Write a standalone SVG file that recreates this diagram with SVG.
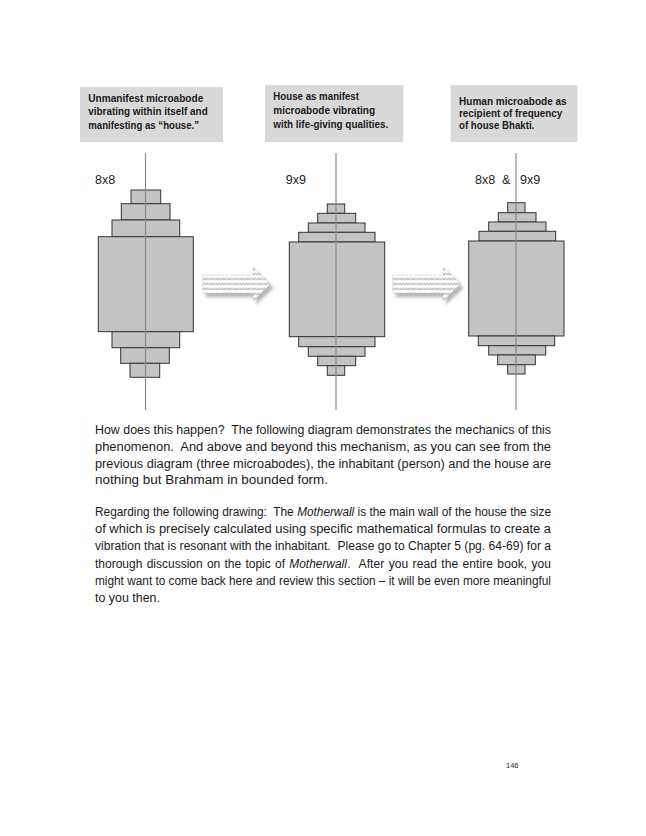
<svg xmlns="http://www.w3.org/2000/svg" width="646" height="836" viewBox="0 0 646 836">
<style>
.box{fill:#d9d9d9;}
.bt{font-family:"Liberation Sans",Arial,sans-serif;font-size:11px;font-weight:bold;fill:#1a1a1a;}
.lbl{font-family:"Liberation Sans",Arial,sans-serif;font-size:12.5px;fill:#222;}
.st{fill:#c4c4c4;stroke:#333;stroke-width:1;}
.axis{stroke:#8a8a8a;stroke-width:1.2;fill:none;}
.body{font-family:"Liberation Sans",Arial,sans-serif;font-size:12px;fill:#1a1a1a;}
.it{font-style:italic;}
.pn{font-family:"Liberation Sans",Arial,sans-serif;font-size:7.5px;fill:#222;}
</style>
<defs>
<pattern id="wave" width="6" height="5" patternUnits="userSpaceOnUse">
<rect width="6" height="5" fill="#ffffff"/>
<path d="M0,3.4 L1.5,1.2 L3,3.4 L4.5,1.2 L6,3.4" fill="none" stroke="#7a7a7a" stroke-width="0.9" stroke-dasharray="1.4,0.5"/>
</pattern>
<filter id="blur" x="-20%" y="-20%" width="140%" height="160%">
<feGaussianBlur stdDeviation="1.8"/>
</filter>
<path id="arrowShape" d="M0,8.3 L50.3,8.3 L50.3,0 L68,17.3 L50.3,34 L50.3,26.6 L0,26.6 Z"/>
</defs>
<rect width="646" height="836" fill="#ffffff"/>

<g id="box1">
<rect class="box" x="80" y="87" width="143" height="55"/>
<text class="bt" x="88.3" y="101.5" textLength="115" lengthAdjust="spacingAndGlyphs">Unmanifest microabode</text>
<text class="bt" x="88.3" y="115" textLength="119.4" lengthAdjust="spacingAndGlyphs">vibrating within itself and</text>
<text class="bt" x="88.3" y="128.5" textLength="110.7" lengthAdjust="spacingAndGlyphs">manifesting as “house.”</text>
</g>
<g id="box2">
<rect class="box" x="265" y="85" width="138.3" height="57"/>
<text class="bt" x="273.3" y="100" textLength="85.7" lengthAdjust="spacingAndGlyphs">House as manifest</text>
<text class="bt" x="273.3" y="114" textLength="101.7" lengthAdjust="spacingAndGlyphs">microabode vibrating</text>
<text class="bt" x="273.3" y="128" textLength="115" lengthAdjust="spacingAndGlyphs">with life-giving qualities.</text>
</g>
<g id="box3">
<rect class="box" x="450.7" y="85" width="126.6" height="57"/>
<text class="bt" x="459" y="104.5" textLength="107.7" lengthAdjust="spacingAndGlyphs">Human microabode as</text>
<text class="bt" x="459" y="116.5" textLength="103.3" lengthAdjust="spacingAndGlyphs">recipient of frequency</text>
<text class="bt" x="459" y="128.5" textLength="75.3" lengthAdjust="spacingAndGlyphs">of house Bhakti.</text>
</g>

<g id="stack1">
<text class="lbl" x="95" y="184">8x8</text>
<rect class="st" x="131" y="190" width="29.7" height="13.7"/>
<rect class="st" x="121.3" y="203.7" width="48.7" height="16.3"/>
<rect class="st" x="112" y="220" width="67.7" height="16.7"/>
<rect class="st" x="98.3" y="236.7" width="95" height="95"/>
<rect class="st" x="112" y="331.7" width="67.7" height="16"/>
<rect class="st" x="120.7" y="347.7" width="48.6" height="15.6"/>
<rect class="st" x="130" y="363.3" width="29.7" height="14"/>
<line class="axis" x1="145.5" y1="153" x2="145.5" y2="410"/>
</g>

<g id="stack2">
<text class="lbl" x="285.7" y="184">9x9</text>
<rect class="st" x="327.3" y="204" width="17.4" height="9.3"/>
<rect class="st" x="317.7" y="213.3" width="38" height="9.7"/>
<rect class="st" x="308.3" y="223" width="56.7" height="9.3"/>
<rect class="st" x="298.7" y="232.3" width="76.3" height="9.7"/>
<rect class="st" x="289.3" y="242" width="95.4" height="94.7"/>
<rect class="st" x="298.7" y="336.7" width="76.3" height="10"/>
<rect class="st" x="308.3" y="346.7" width="56.7" height="9.6"/>
<rect class="st" x="317.7" y="356.3" width="38" height="9.4"/>
<rect class="st" x="327.3" y="365.7" width="17.4" height="9.6"/>
<line class="axis" x1="336" y1="153" x2="336" y2="410"/>
</g>

<g id="stack3">
<text class="lbl" x="475" y="184" xml:space="preserve">8x8  &amp;</text>
<text class="lbl" x="520" y="184">9x9</text>
<rect class="st" x="507.7" y="202.7" width="17.3" height="10"/>
<rect class="st" x="498.3" y="212.7" width="37.7" height="9.3"/>
<rect class="st" x="488.7" y="222" width="57.3" height="9.3"/>
<rect class="st" x="479" y="231.3" width="76.7" height="9.7"/>
<rect class="st" x="468.7" y="241" width="95.3" height="95"/>
<rect class="st" x="478.3" y="336" width="76.4" height="9.7"/>
<rect class="st" x="488.7" y="345.7" width="57" height="9.3"/>
<rect class="st" x="497.7" y="355" width="37.6" height="9.7"/>
<rect class="st" x="507.7" y="364.7" width="17.3" height="9.3"/>
<line class="axis" x1="516" y1="153" x2="516" y2="410"/>
</g>

<g id="connectors">
<g transform="translate(202.7,266.7)">
<use href="#arrowShape" transform="translate(3,4)" fill="#8a8a8a" opacity="0.6" filter="url(#blur)"/>
<use href="#arrowShape" fill="url(#wave)" stroke="#b0b0b0" stroke-width="0.6" stroke-dasharray="1,1"/>
</g>
<g transform="translate(392.7,266.7)">
<use href="#arrowShape" transform="translate(3,4)" fill="#8a8a8a" opacity="0.6" filter="url(#blur)"/>
<use href="#arrowShape" fill="url(#wave)" stroke="#b0b0b0" stroke-width="0.6" stroke-dasharray="1,1"/>
</g>
</g>

<g id="para1">
<text class="body" x="95" y="434" textLength="456" lengthAdjust="spacingAndGlyphs" xml:space="preserve">How does this happen?  The following diagram demonstrates the mechanics of this</text>
<text class="body" x="95" y="451" textLength="456" lengthAdjust="spacingAndGlyphs" xml:space="preserve">phenomenon.  And above and beyond this mechanism, as you can see from the</text>
<text class="body" x="95" y="467.5" textLength="456" lengthAdjust="spacingAndGlyphs">previous diagram (three microabodes), the inhabitant (person) and the house are</text>
<text class="body" x="95" y="484" textLength="233" lengthAdjust="spacingAndGlyphs">nothing but Brahmam in bounded form.</text>
</g>

<g id="para2">
<text class="body" x="95" y="516" textLength="198.7" lengthAdjust="spacingAndGlyphs" xml:space="preserve">Regarding the following drawing:  The</text>
<text class="body it" x="297.2" y="516" textLength="57" lengthAdjust="spacingAndGlyphs">Motherwall</text>
<text class="body" x="357.6" y="516" textLength="193.4" lengthAdjust="spacingAndGlyphs">is the main wall of the house the size</text>
<text class="body" x="95" y="533" textLength="456" lengthAdjust="spacingAndGlyphs">of which is precisely calculated using specific mathematical formulas to create a</text>
<text class="body" x="95" y="550" textLength="456" lengthAdjust="spacingAndGlyphs" xml:space="preserve">vibration that is resonant with the inhabitant.  Please go to Chapter 5 (pg. 64-69) for a</text>
<text class="body" x="95" y="567.5" word-spacing="0.9" textLength="190" lengthAdjust="spacing">thorough discussion on the topic of</text>
<text class="body it" x="289.3" y="567.5" textLength="57.6" lengthAdjust="spacingAndGlyphs">Motherwall</text>
<text class="body" x="347.2" y="567.5" word-spacing="0.9" textLength="203.8" lengthAdjust="spacing" xml:space="preserve">.  After you read the entire book, you</text>
<text class="body" x="95" y="584.5" textLength="456" lengthAdjust="spacingAndGlyphs">might want to come back here and review this section – it will be even more meaningful</text>
<text class="body" x="95" y="601.5" textLength="65" lengthAdjust="spacingAndGlyphs">to you then.</text>
</g>

<text class="pn" x="506" y="768">146</text>
</svg>
